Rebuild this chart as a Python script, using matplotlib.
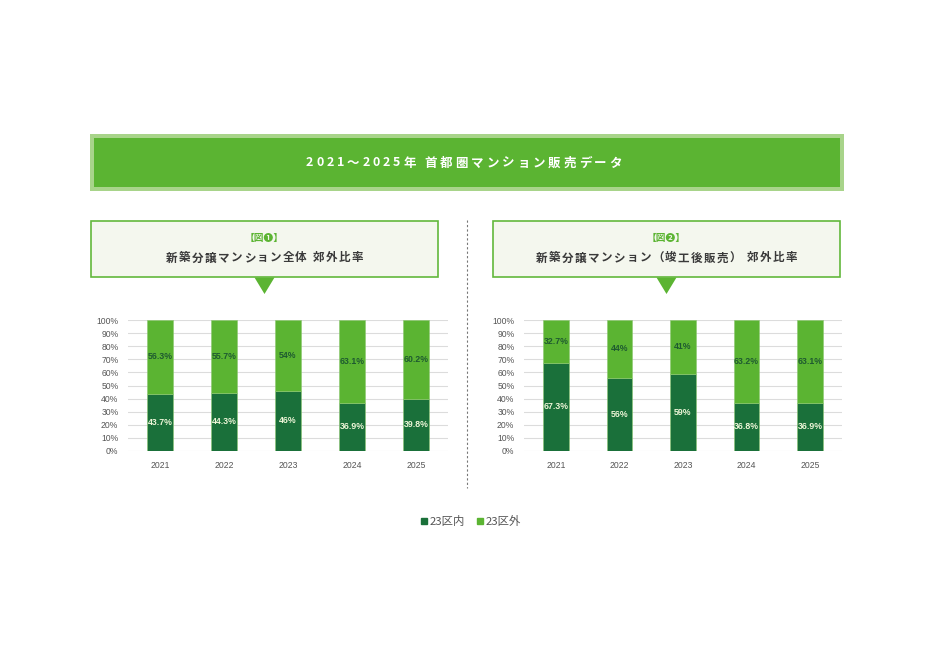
import matplotlib
matplotlib.use("agg")
import matplotlib.pyplot as plt
from matplotlib.patches import Rectangle, Polygon
from matplotlib.lines import Line2D

years = ["2021", "2022", "2023", "2024", "2025"]
inner_all = [43.7, 44.3, 46, 36.9, 39.8]
outer_all = [56.3, 55.7, 54, 63.1, 60.2]
inner_done = [67.3, 56, 59, 36.8, 36.9]
outer_done = [32.7, 44, 41, 63.2, 63.1]
yticks = [0, 10, 20, 30, 40, 50, 60, 70, 80, 90, 100]

title = "2021～2025年 首都圏マンション販売データ"
sub1_tag = "【図❶】"
sub1 = "新築分譲マンション全体 郊外比率"
sub2_tag = "【図❷】"
sub2 = "新築分譲マンション（竣工後販売） 郊外比率"
legend_labels = ["23区内", "23区外"]

DARK = "#1A703A"
LIGHT = "#5BB432"
JP = ["Noto Sans CJK JP", "DejaVu Sans"]

W, H = 931, 651
fig = plt.figure(figsize=(W / 100, H / 100), dpi=100)
fig.patch.set_facecolor("white")

bg = fig.add_axes([0, 0, 1, 1])
bg.set_xlim(0, W)
bg.set_ylim(H, 0)
bg.axis("off")
renderer = fig.canvas.get_renderer()


def spaced(x, y, s, size, gap, **kw):
    # draw text char by char to get the letter spacing of the original
    widths = []
    for ch in s:
        t = bg.text(0, 0, ch, fontsize=size, family=JP, **kw)
        widths.append(t.get_window_extent(renderer).width if ch != " " else size * 0.35)
        t.remove()
    total = sum(widths) + gap * (len(s) - 1)
    cx = x - total / 2
    for ch, w in zip(s, widths):
        bg.text(cx, y, ch, fontsize=size, family=JP, ha="left", va="center", **kw)
        cx += w + gap


# header banner
bg.add_patch(Rectangle((90, 134), 754, 57, facecolor="#A8D48A", edgecolor="none"))
bg.add_patch(Rectangle((94, 138), 746, 49, facecolor=LIGHT, edgecolor="none"))
spaced(464, 163, title, 9, 2.9, color="white", fontweight="bold")

# sub title boxes
for x0, tag, txt in [(91, sub1_tag, sub1), (493, sub2_tag, sub2)]:
    bg.add_patch(Rectangle((x0, 221), 347, 56, facecolor="#F4F7EE", edgecolor="#62B83C", lw=1.2))
    cx = x0 + 173.5
    bg.add_patch(Polygon([(cx - 10, 277.5), (cx + 10, 277.5), (cx, 294)], closed=True,
                         facecolor=LIGHT, edgecolor="none"))
    bg.text(cx, 238, tag, fontsize=7, family=JP, color=LIGHT, ha="center", va="center",
            fontweight="bold")
    spaced(cx, 258, txt, 8.3, 1.4, color="#3A3A3A", fontweight="bold")

bg.plot([467, 467], [220, 488], color="#777777", lw=0.8, linestyle=(0, (2, 2)))


def draw(rect, inner, outer):
    ax = fig.add_axes(rect)
    x = range(len(years))
    ax.bar(x, inner, width=0.4, color=DARK, edgecolor="#8CC870", linewidth=0.4, zorder=3)
    ax.bar(x, outer, width=0.4, bottom=inner, color=LIGHT, edgecolor="#8CC870", linewidth=0.4,
           zorder=3)
    for i in x:
        ax.text(i, inner[i] / 2, f"{inner[i]:g}%", ha="center", va="center", fontsize=6.3,
                fontweight="bold", family="Liberation Sans", color="#EEF6D8", zorder=4)
        ax.text(i, inner[i] + outer[i] / 2, f"{outer[i]:g}%", ha="center", va="center",
                fontsize=6.3, fontweight="bold", family="Liberation Sans", color="#1E5A30",
                zorder=4)
    ax.set_xlim(-0.5, len(years) - 0.5)
    ax.set_ylim(0, 100)
    ax.set_yticks(yticks)
    ax.set_yticklabels([f"{v}%" for v in yticks])
    ax.set_xticks(list(x))
    ax.set_xticklabels(years)
    ax.grid(axis="y", color="#DCDCDC", lw=0.8, zorder=0)
    for s in ax.spines.values():
        s.set_visible(False)
    ax.tick_params(length=0, labelsize=6.2, colors="#555555")
    ax.tick_params(axis="y", pad=7)
    ax.tick_params(axis="x", pad=7)
    for lab in ax.get_xticklabels() + ax.get_yticklabels():
        lab.set_family("Liberation Sans")
    ax.set_facecolor("none")
    return ax


draw([128 / W, 1 - 451 / H, 320 / W, 131 / H], inner_all, outer_all)
draw([524 / W, 1 - 451 / H, 318 / W, 131 / H], inner_done, outer_done)

handles = [Line2D([], [], marker="s", color=c, linestyle="none", markersize=5)
           for c in (DARK, LIGHT)]
leg = fig.legend(handles, legend_labels, loc="center", bbox_to_anchor=(471 / W, 1 - 521 / H),
                 ncol=2, frameon=False, handlelength=0.6, handletextpad=0.2, columnspacing=1.0,
                 prop={"family": JP, "size": 8.2})
for t in leg.get_texts():
    t.set_color("#555555")

fig.savefig("out.png", dpi=100)
